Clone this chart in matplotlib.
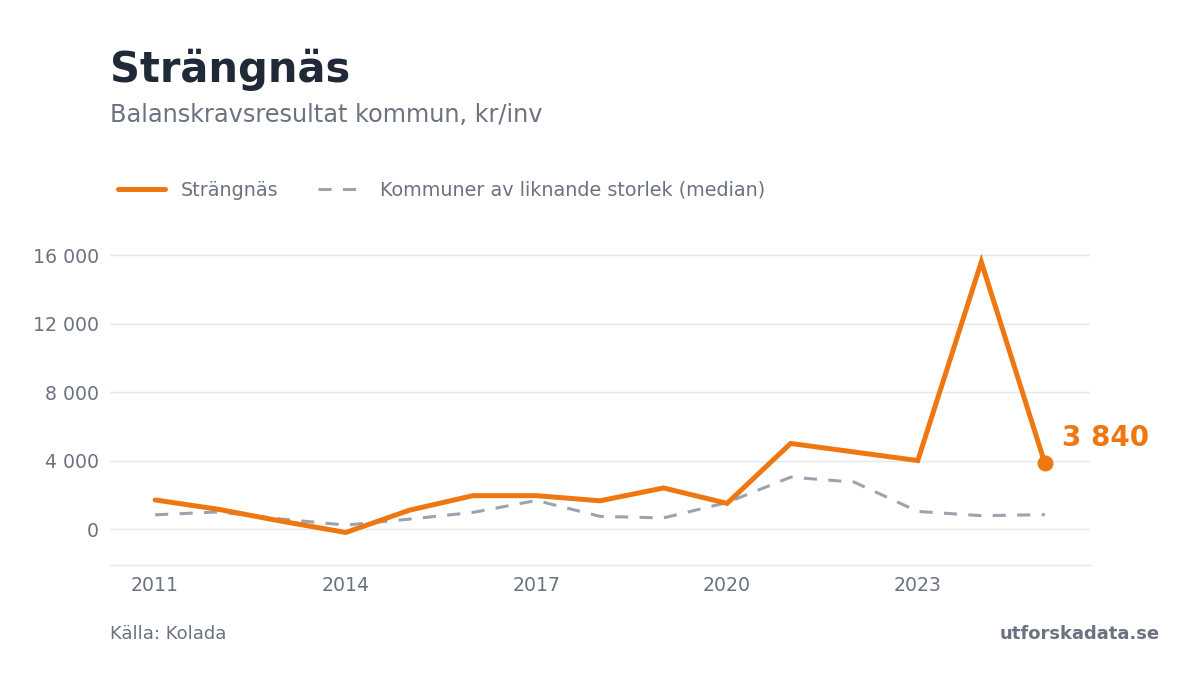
import matplotlib
matplotlib.use("Agg")
import matplotlib.pyplot as plt
from matplotlib.ticker import FuncFormatter

years = list(range(2011, 2026))
strangnas = [1700, 1150, 450, -200, 1100, 1950, 1950, 1650, 2400, 1500, 5000, 4500, 4000, 15600, 3840]
median = [830, 1000, 580, 230, 580, 970, 1670, 740, 650, 1550, 3030, 2740, 1030, 780, 840]

title = "Strängnäs"
subtitle = "Balanskravsresultat kommun, kr/inv"
source = "Källa: Kolada"
brand = "utforskadata.se"
yticks = [0, 4000, 8000, 12000, 16000]
xticks = [2011, 2014, 2017, 2020, 2023]

orange = "#ef7712"
gray = "#9ca3af"
dark = "#1f2937"
muted = "#6b7280"
grid = "#e5e7eb"

plt.rcParams['font.family'] = ['DejaVu Sans']

W, H = 1200, 675
fig = plt.figure(figsize=(12, 6.75), dpi=100)
# axes box in pixels: left 110, right 1090, top 238, bottom 565
ax = fig.add_axes([110 / W, (H - 565) / H, 980 / W, (565 - 238) / H])

ax.plot(years, strangnas, color=orange, lw=3.6, solid_capstyle='round',
        solid_joinstyle='miter', label="Strängnäs", zorder=3)
ax.plot(years, median, color=gray, lw=2.2, dashes=(4.3, 3.7),
        label="Kommuner av liknande storlek (median)", zorder=2)
ax.scatter([years[-1]], [strangnas[-1]], s=110, color=orange, zorder=4)

last = f"{strangnas[-1]:,}".replace(",", " ")
ax.annotate(last, xy=(years[-1], strangnas[-1]), xytext=(12, 18),
            textcoords='offset points', color=orange, fontsize=20,
            fontweight='bold', va='center', ha='left')

ax.set_xlim(2010.29, 2025.71)
ax.set_ylim(-2100, 17000)
ax.set_yticks(yticks)
ax.set_xticks(xticks)
ax.yaxis.set_major_formatter(FuncFormatter(lambda v, p: f"{int(v):,}".replace(",", " ")))
ax.grid(axis='y', color=grid, lw=1)
ax.set_axisbelow(True)
for s in ['top', 'right', 'left']:
    ax.spines[s].set_visible(False)
ax.spines['bottom'].set_color(grid)
ax.spines['bottom'].set_linewidth(1)
ax.tick_params(axis='both', length=0, colors=muted, labelsize=13.6)
ax.tick_params(axis='y', pad=8)
ax.tick_params(axis='x', pad=8)

fig.text(110 / W, 1 - 70 / H, title, fontsize=30, fontweight='bold', color=dark, va='center')
fig.text(110 / W, 1 - 115 / H, subtitle, fontsize=17.3, color=muted, va='center')
fig.text(110 / W, 1 - 634 / H, source, fontsize=13, color=muted, va='center')
fig.text(1160 / W, 1 - 634 / H, brand, fontsize=13, fontweight='bold', color=muted,
         va='center', ha='right')

leg = ax.legend(loc='center left', bbox_to_anchor=(101 / W, 1 - 190 / H),
                bbox_transform=fig.transFigure, ncol=2, frameon=False,
                fontsize=13.75, handlelength=2.45, handletextpad=0.8, columnspacing=2.1)
for t in leg.get_texts():
    t.set_color(muted)

fig.savefig("out.png", dpi=100, facecolor='white')
